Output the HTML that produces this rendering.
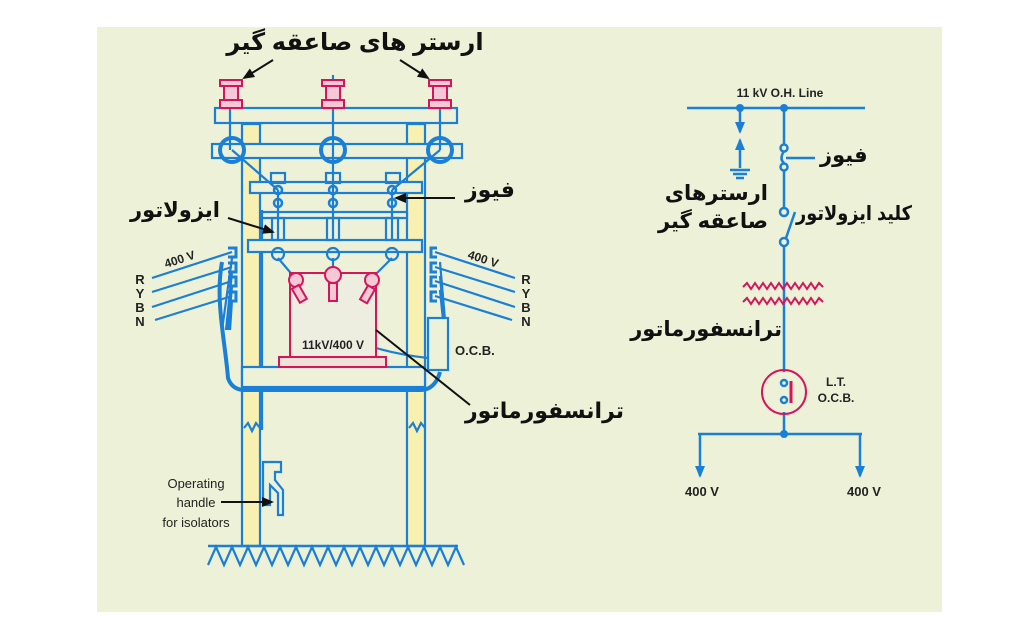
<!DOCTYPE html>
<html><head><meta charset="utf-8"><style>
html,body{margin:0;padding:0;background:#fff}
svg{display:block}
.fa{font-family:"Liberation Sans","DejaVu Sans",sans-serif;font-weight:bold;fill:#111}
.en{font-family:"Liberation Sans",sans-serif;fill:#222}
</style></head><body>
<svg width="1024" height="636" viewBox="0 0 1024 636" xmlns="http://www.w3.org/2000/svg">
<defs>
<marker id="ab" markerUnits="userSpaceOnUse" markerWidth="12" markerHeight="12" refX="10" refY="6" orient="auto"><path d="M0,1 L12,6 L0,11z" fill="#111"/></marker>
<marker id="bl" markerUnits="userSpaceOnUse" markerWidth="12" markerHeight="12" refX="10" refY="6" orient="auto"><path d="M0,1 L12,6 L0,11z" fill="#1a7fd6"/></marker>
</defs>
<rect x="97" y="27" width="845" height="585" fill="#edf1d7"/>
<g stroke="#1a7fd6" stroke-width="2.2" fill="none">
<rect x="242" y="124" width="18" height="422" fill="#f8f0b0"/>
<rect x="407" y="124" width="18" height="422" fill="#f8f0b0"/>
<line x1="262" y1="210" x2="262" y2="430"/>
<rect x="215" y="108" width="242" height="15" fill="#edf1d7"/>
<rect x="212" y="144" width="250" height="14" fill="#edf1d7"/>
<rect x="250" y="182" width="172" height="11" fill="#edf1d7"/>
<rect x="262" y="212" width="145" height="6" fill="#edf1d7"/>
<rect x="248" y="240" width="174" height="12" fill="#edf1d7"/>
<line x1="230" y1="80" x2="230" y2="150"/><line x1="333" y1="75" x2="333" y2="240"/><line x1="440" y1="80" x2="440" y2="150"/>
<circle cx="232" cy="150" r="12" stroke-width="4"/><circle cx="333" cy="150" r="12" stroke-width="4"/><circle cx="440" cy="150" r="12" stroke-width="4"/>
<line x1="232" y1="150" x2="278" y2="190"/><line x1="440" y1="150" x2="392" y2="190"/>
<rect x="271" y="173" width="14" height="10"/><rect x="326" y="173" width="14" height="10"/><rect x="386" y="173" width="14" height="10"/>
<g stroke-width="2.5">
<circle cx="278" cy="190" r="4"/><circle cx="278" cy="203" r="4"/><circle cx="333" cy="190" r="4"/><circle cx="333" cy="203" r="4"/><circle cx="392" cy="190" r="4"/><circle cx="392" cy="203" r="4"/>
</g>
<line x1="278" y1="190" x2="278" y2="240"/><line x1="392" y1="190" x2="392" y2="240"/>
<rect x="272" y="218" width="12" height="22"/><rect x="327" y="218" width="12" height="22"/><rect x="386" y="218" width="12" height="22"/>
<circle cx="278" cy="254" r="6"/><circle cx="333" cy="254" r="6"/><circle cx="392" cy="254" r="6"/>
<line x1="278" y1="258" x2="295" y2="278"/><line x1="333" y1="258" x2="333" y2="272"/><line x1="392" y1="258" x2="372" y2="278"/>
<rect x="242" y="367" width="183" height="20" fill="#edf1d7"/>
<path d="M222,262 C215,300 225,340 228,378 Q232,390 245,390 L420,390 Q435,390 440,372" stroke-width="4"/>
<path d="M232,258 L222,330 M232,272 L226,330 M232,286 L228,330 M232,300 L230,330"/>
<path d="M440,262 L445,320 M440,276 L444,320 M440,290 L443,320"/>
<line x1="152" y1="278" x2="232" y2="252"/><line x1="152" y1="292" x2="232" y2="267"/><line x1="152" y1="307" x2="232" y2="281"/><line x1="155" y1="320" x2="232" y2="296"/>
<line x1="515" y1="278" x2="435" y2="252"/><line x1="515" y1="292" x2="435" y2="267"/><line x1="515" y1="307" x2="435" y2="281"/><line x1="512" y1="320" x2="435" y2="296"/>
<g stroke-width="3"><path d="M228,248 h8 v9 h-8 M228,263 h8 v9 h-8 M228,277 h8 v9 h-8 M228,292 h8 v9 h-8"/><path d="M437,248 h-6 v9 h6 M437,263 h-6 v9 h6 M437,277 h-6 v9 h6 M437,292 h-6 v9 h6"/></g>
<rect x="428" y="318" width="20" height="52" fill="#edf1d7"/>
<path d="M376,348 Q400,355 428,358"/>
<path d="M244,428 l4,-5 l4,8 l4,-8 l4,5 M409,428 l4,-5 l4,8 l4,-8 l4,5"/>
<path d="M263,462 h18 v10 h-6 v8 l8,10 v25 h-5 v-22 l-8,-8 v20 h-7z"/>
<line x1="208" y1="546" x2="458" y2="546" stroke-width="2.5"/>
<path d="M208,565 l8,-18 l8,18 l8,-18 l8,18 l8,-18 l8,18 l8,-18 l8,18 l8,-18 l8,18 l8,-18 l8,18 l8,-18 l8,18 l8,-18 l8,18 l8,-18 l8,18 l8,-18 l8,18 l8,-18 l8,18 l8,-18 l8,18 l8,-18 l8,18 l8,-18 l8,18 l8,-18 l8,18 l8,-18 l8,18"/>
</g>
<g stroke="#d6145a" stroke-width="2" fill="#f4c8d4">
<g><rect x="220" y="80" width="22" height="6"/><rect x="224" y="86" width="14" height="14"/><rect x="220" y="100" width="22" height="8"/></g>
<g><rect x="322" y="80" width="22" height="6"/><rect x="326" y="86" width="14" height="14"/><rect x="322" y="100" width="22" height="8"/></g>
<g><rect x="429" y="80" width="22" height="6"/><rect x="433" y="86" width="14" height="14"/><rect x="429" y="100" width="22" height="8"/></g>
<rect x="290" y="273" width="86" height="84" fill="#eeeee0"/>
<rect x="279" y="357" width="107" height="10" fill="#f0e0d8"/>
<circle cx="296" cy="280" r="7"/><rect x="293" y="287" width="8" height="16" transform="rotate(-30 296 290)"/>
<circle cx="333" cy="275" r="8"/><rect x="329" y="283" width="8" height="18"/>
<circle cx="372" cy="280" r="7"/><rect x="366" y="287" width="8" height="16" transform="rotate(30 370 290)"/>
</g>
<line x1="376" y1="330" x2="470" y2="405" stroke="#111" stroke-width="2"/>
<text x="333" y="349" class="en" font-size="12" font-weight="bold" text-anchor="middle">11kV/400 V</text>
<text x="455" y="355" class="en" font-size="13" font-weight="bold">O.C.B.</text>
<text class="en" font-size="12" font-weight="bold" transform="translate(166,268) rotate(-18)">400 V</text>
<text class="en" font-size="12" font-weight="bold" transform="translate(467,258) rotate(18)">400 V</text>
<g class="en" font-size="13" font-weight="bold" text-anchor="middle">
<text x="140" y="284">R</text><text x="140" y="298">Y</text><text x="140" y="312">B</text><text x="140" y="326">N</text>
<text x="526" y="284">R</text><text x="526" y="298">Y</text><text x="526" y="312">B</text><text x="526" y="326">N</text>
</g>
<g class="en" font-size="13" text-anchor="middle">
<text x="196" y="488">Operating</text><text x="196" y="507">handle</text><text x="196" y="527">for isolators</text>
</g>
<line x1="221" y1="502" x2="272" y2="502" stroke="#111" stroke-width="2" marker-end="url(#ab)"/>
<text x="355" y="50" class="fa" font-size="24" text-anchor="middle">ارستر های  صاعقه گیر</text>
<line x1="273" y1="60" x2="244" y2="78" stroke="#111" stroke-width="2" marker-end="url(#ab)"/>
<line x1="400" y1="60" x2="428" y2="78" stroke="#111" stroke-width="2" marker-end="url(#ab)"/>
<text x="465" y="197" class="fa" font-size="22">فیوز</text>
<line x1="455" y1="198" x2="396" y2="198" stroke="#111" stroke-width="2" marker-end="url(#ab)"/>
<text x="130" y="217" class="fa" font-size="21">ایزولاتور</text>
<line x1="228" y1="218" x2="273" y2="232" stroke="#111" stroke-width="2" marker-end="url(#ab)"/>
<text x="465" y="418" class="fa" font-size="22">ترانسفورماتور</text>
<g stroke="#1a7fd6" stroke-width="2.5" fill="none">
<line x1="687" y1="108" x2="865" y2="108"/>
<line x1="784" y1="108" x2="784" y2="145"/><line x1="784" y1="170" x2="784" y2="208"/><line x1="784" y1="246" x2="784" y2="372"/><line x1="784" y1="412" x2="784" y2="434"/>
<line x1="740" y1="108" x2="740" y2="132" marker-end="url(#bl)"/>
<line x1="740" y1="168" x2="740" y2="140" marker-end="url(#bl)"/>
<line x1="730" y1="170" x2="750" y2="170"/><line x1="733" y1="174" x2="747" y2="174"/><line x1="736" y1="178" x2="744" y2="178"/>
<circle cx="784" cy="148" r="3.5"/><circle cx="784" cy="167" r="3.5"/><path d="M784,151 q-5,8 0,12"/>
<line x1="786" y1="158" x2="815" y2="158"/>
<circle cx="784" cy="212" r="4"/><circle cx="784" cy="242" r="4"/><line x1="786" y1="238" x2="795" y2="212"/>
<line x1="698" y1="434" x2="862" y2="434"/>
<line x1="700" y1="434" x2="700" y2="476" marker-end="url(#bl)"/><line x1="860" y1="434" x2="860" y2="476" marker-end="url(#bl)"/>
<circle cx="784" cy="383" r="3"/><circle cx="784" cy="400" r="3"/>
</g>
<g fill="#1a7fd6"><circle cx="740" cy="108" r="4"/><circle cx="784" cy="108" r="4"/><circle cx="784" cy="434" r="4"/></g>
<g stroke="#d6145a" stroke-width="2" fill="none">
<path d="M743,287 l4,-4 l4,6 l4,-6 l4,6 l4,-6 l4,6 l4,-6 l4,6 l4,-6 l4,6 l4,-6 l4,6 l4,-6 l4,6 l4,-6 l4,6 l4,-6 l4,6 l4,-6 l4,4"/>
<path d="M743,302 l4,-4 l4,6 l4,-6 l4,6 l4,-6 l4,6 l4,-6 l4,6 l4,-6 l4,6 l4,-6 l4,6 l4,-6 l4,6 l4,-6 l4,6 l4,-6 l4,6 l4,-6 l4,4"/>
<circle cx="784" cy="392" r="22"/><line x1="791" y1="381" x2="791" y2="403" stroke-width="3"/>
</g>
<text x="780" y="97" class="en" font-size="12" font-weight="bold" text-anchor="middle">11 kV O.H. Line</text>
<text x="820" y="162" class="fa" font-size="21">فیوز</text>
<text x="768" y="200" class="fa" font-size="21" text-anchor="end">ارسترهای</text>
<text x="768" y="228" class="fa" font-size="21" text-anchor="end">صاعقه گیر</text>
<text x="796" y="220" class="fa" font-size="20" textLength="116" lengthAdjust="spacingAndGlyphs">کلید ایزولاتور</text>
<text x="782" y="336" class="fa" font-size="21" text-anchor="end">ترانسفورماتور</text>
<text x="836" y="386" class="en" font-size="12" font-weight="bold" text-anchor="middle">L.T.</text>
<text x="836" y="402" class="en" font-size="12" font-weight="bold" text-anchor="middle">O.C.B.</text>
<text x="702" y="496" class="en" font-size="13" font-weight="bold" text-anchor="middle">400 V</text>
<text x="864" y="496" class="en" font-size="13" font-weight="bold" text-anchor="middle">400 V</text>
</svg>
</body></html>
